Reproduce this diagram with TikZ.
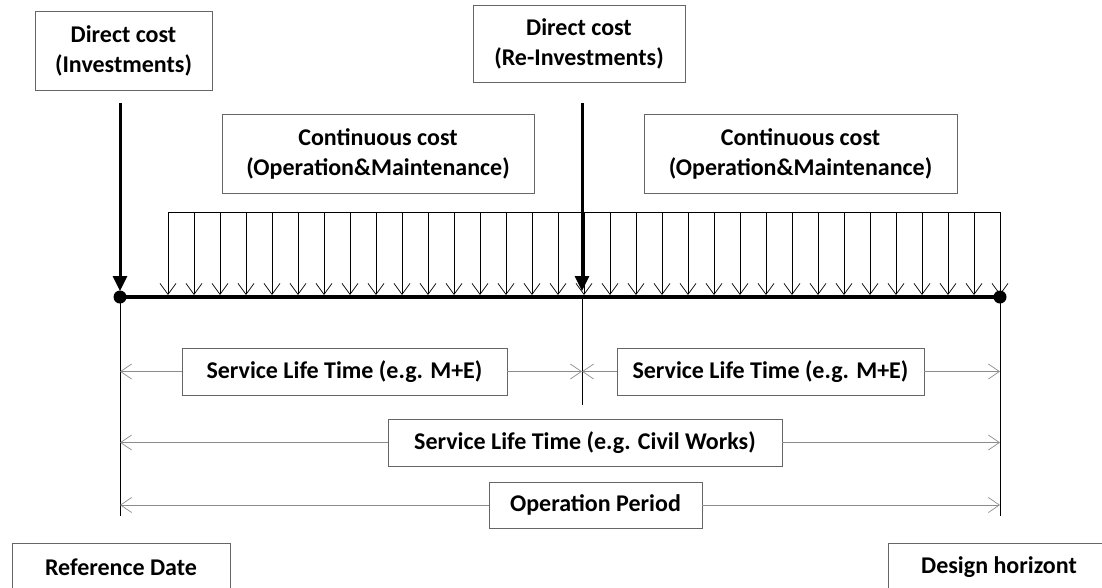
\documentclass[tikz,border=0pt]{standalone}
\usepackage{fontspec}
\setmainfont{Carlito}
\usetikzlibrary{arrows.meta}

\tikzset{
  costbox/.style={draw=black!60, line width=0.8pt, fill=white, align=center, inner sep=0pt,
    font=\bfseries\fontsize{24}{30}\selectfont},
  dimtip/.style={-{Straight Barb[length=11pt,width=15pt]}, black!45, line width=0.7pt},
  loadarrow/.style={-{Straight Barb[length=11pt,width=16pt]}, line width=0.7pt},
  bigarrow/.style={-{Triangle[length=15pt,width=14pt]}, line width=3pt},
}

\begin{document}
\begin{tikzpicture}[x=1pt,y=-1pt]
			\useasboundingbox (0,0) rectangle (1102,587);
			\clip (0,0) rectangle (1102,587);
			\coordinate (start) at (120,297);
			\coordinate (mid) at (582,297);
			\coordinate (end) at (1000,297);

			\node[costbox, minimum width=177, minimum height=79] (inv) at (123.5,50.5) {Direct cost\\(Investments)};
			\node[costbox, minimum width=212, minimum height=77] (reinv) at (579,43.5) {Direct cost\\(Re-Investments)};
			\node[costbox, minimum width=312, minimum height=79] (cont1) at (378,153.5) {Continuous cost\\(Operation\&Maintenance)};
			\node[costbox, minimum width=313, minimum height=79] (cont2) at (800.5,153.5) {Continuous cost\\(Operation\&Maintenance)};

			\draw[line width=0.7pt] (168,212) -- (1000,212);
			\foreach \i in {0,...,32}
				\draw[loadarrow] (168+26*\i,212) -- (168+26*\i,295);

			\draw[line width=1pt] (start) -- (120,516);
			\draw[line width=1pt] (end) -- (1000,516);
			\draw[line width=1pt] (mid) -- (582,405);
			\draw[line width=4pt] (start) -- (end);
			\fill (start) circle (6.5);
			\fill (end) circle (6.5);

			\draw[bigarrow] ([yshift=-13pt]inv.south -| start) -- ([yshift=6pt]start);
			\draw[bigarrow] ([yshift=-21pt]reinv.south -| mid) -- ([yshift=6pt]mid);

			\node[costbox, minimum width=325, minimum height=47] (slt1) at (344.5,371.5) {Service Life Time (e.g. M+E)};
			\node[costbox, minimum width=307, minimum height=47] (slt2) at (770.5,371.5) {Service Life Time (e.g. M+E)};
			\node[costbox, minimum width=394, minimum height=47] (civil) at (585,442.5) {Service Life Time (e.g. Civil Works)};
			\node[costbox, minimum width=213, minimum height=46] (oper) at (595.5,505) {Operation Period};
			\node[costbox, minimum width=218, minimum height=48] (refdate) at (121,567) {Reference Date};
			\node[costbox, minimum width=222, minimum height=48] (horizon) at (999,567) {Design horizont};

			\draw[dimtip] (slt1.west) -- (slt1.west -| start);
			\draw[dimtip] (slt1.east) -- (slt1.east -| mid);
			\draw[dimtip] (slt2.west) -- (slt2.west -| mid);
			\draw[dimtip] (slt2.east) -- (slt2.east -| end);
			\draw[dimtip] (civil.west) -- (civil.west -| start);
			\draw[dimtip] (civil.east) -- (civil.east -| end);
			\draw[dimtip] (oper.west) -- (oper.west -| start);
			\draw[dimtip] (oper.east) -- (oper.east -| end);
		\end{tikzpicture}
\end{document}
